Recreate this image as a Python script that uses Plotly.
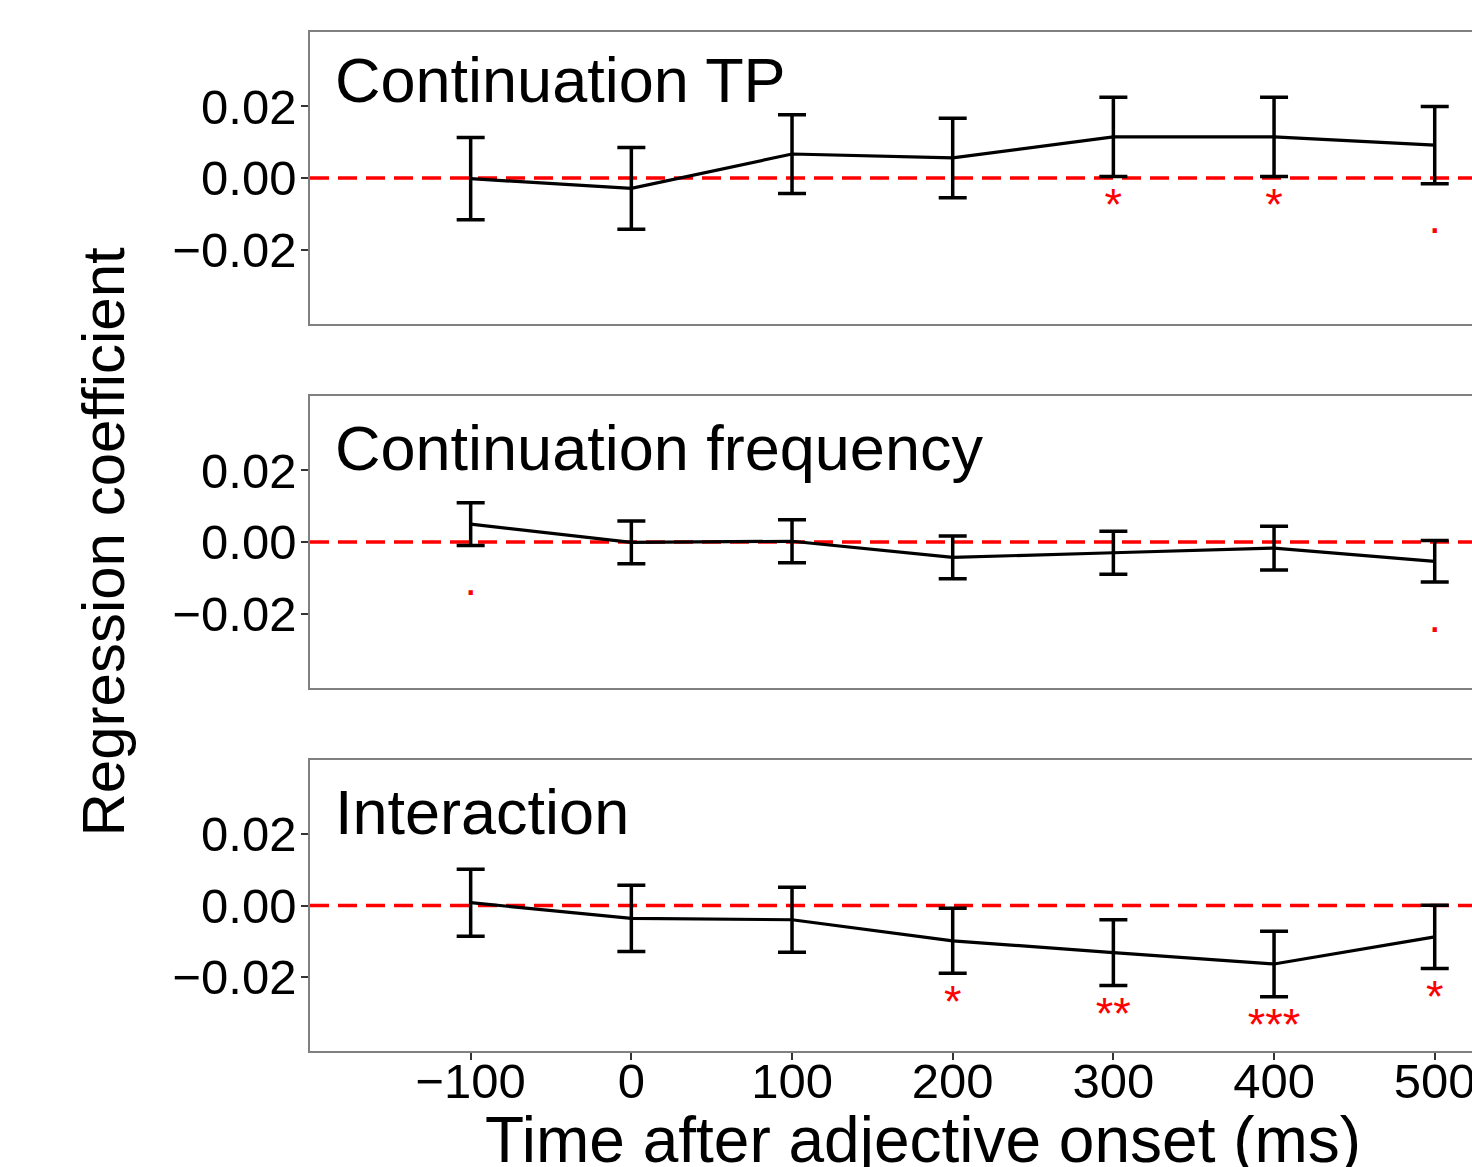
import plotly.graph_objects as go

# ---- data ----
times = [-100, 0, 100, 200, 300, 400, 500]
panel_titles = ["Continuation TP", "Continuation frequency", "Interaction"]

tp_mean = [-0.0002, -0.0029, 0.0067, 0.0056, 0.0115, 0.0115, 0.0092]
tp_se = [0.0115, 0.0114, 0.0110, 0.0111, 0.0111, 0.0111, 0.0108]
tp_sig = ["", "", "", "", "*", "*", "."]

freq_mean = [0.0050, -0.0001, 0.0002, -0.0043, -0.0030, -0.0017, -0.0054]
freq_se = [0.0060, 0.0060, 0.0060, 0.0060, 0.0060, 0.0061, 0.0058]
freq_sig = [".", "", "", "", "", "", "."]

int_mean = [0.0008, -0.0036, -0.0040, -0.0099, -0.0132, -0.0164, -0.0088]
int_se = [0.0094, 0.0093, 0.0091, 0.0091, 0.0092, 0.0092, 0.0089]
int_sig = ["", "", "", "*", "**", "***", "*"]

y_ticks = [-0.02, 0.0, 0.02]
x_ticks = [-100, 0, 100, 200, 300, 400, 500]

x_label = "Time after adjective onset (ms)"
y_label = "Regression coefficient"

means = [tp_mean, freq_mean, int_mean]
ses = [tp_se, freq_se, int_se]
sigs = [tp_sig, freq_sig, int_sig]

FONT = "Liberation Sans, Arial, Helvetica, sans-serif"
W, H = 1472, 1167
ML, MR, MT, MB = 310, 0, 32, 116
PH = H - MT - MB
PW = W - ML - MR

panel_px = [(32, 324), (396, 688), (760, 1051)]
domains = [[(H - MB - bot) / PH, (H - MB - top) / PH] for top, bot in panel_px]

fig = go.Figure()
YR = [-0.0408, 0.0408]
XR = [-200, 523.2]

for i in range(3):
    xa = "x" if i == 0 else f"x{i+1}"
    ya = "y" if i == 0 else f"y{i+1}"
    fig.add_trace(go.Scatter(
        x=XR, y=[0, 0], mode="lines", xaxis=xa, yaxis=ya,
        line=dict(color="#ff0000", width=3.3, dash="19px,9px"),
        hoverinfo="skip", showlegend=False))
    fig.add_trace(go.Scatter(
        x=times, y=means[i], mode="lines", xaxis=xa, yaxis=ya,
        line=dict(color="black", width=3.2),
        error_y=dict(type="data", array=ses[i], color="black",
                     thickness=3.5, width=14),
        showlegend=False))
    # label offset below the lower error bar; the period glyph sits on the baseline
    sig_y = [m - s - 0.009 - (0.0017 if t == "." else 0.0)
             for m, s, t in zip(means[i], ses[i], sigs[i])]
    fig.add_trace(go.Scatter(
        x=times, y=sig_y, mode="text", text=sigs[i], xaxis=xa, yaxis=ya,
        textposition="middle center",
        textfont=dict(color="#ff0000", size=45, family=FONT),
        showlegend=False, hoverinfo="skip"))

axis_line = dict(showline=True, linecolor="#808080", linewidth=1.5,
                 showgrid=False, zeroline=False, automargin=False)

layout = dict(
    width=W, height=H,
    margin=dict(l=ML, r=MR, t=MT, b=MB),
    plot_bgcolor="white", paper_bgcolor="white",
    font=dict(family=FONT, color="black"),
    showlegend=False,
)
for i in range(3):
    xk = "xaxis" if i == 0 else f"xaxis{i+1}"
    yk = "yaxis" if i == 0 else f"yaxis{i+1}"
    ya = "y" if i == 0 else f"y{i+1}"
    xa = "x" if i == 0 else f"x{i+1}"
    bottom = (i == 2)
    layout[xk] = dict(
        **axis_line, mirror=True, range=XR, domain=[0, 1], anchor=ya,
        tickvals=x_ticks, showticklabels=bottom,
        ticks="outside" if bottom else "", ticklen=7, tickwidth=1.5,
        tickcolor="#333333", tickfont=dict(size=49, color="black"),
        ticklabeloverflow="allow", ticklabelstandoff=-21,
    )
    layout[yk] = dict(
        **axis_line, mirror=False, range=YR, domain=domains[i], anchor=xa,
        tickvals=y_ticks, tickformat=".2f", ticks="outside", ticklen=7,
        tickwidth=1.5, tickcolor="#333333",
        tickfont=dict(size=49, color="black"),
        ticklabelstandoff=-5,
    )
fig.update_layout(**layout)

title_y = [0.0275, 0.0263, 0.0261]
for i in range(3):
    xa = "x" if i == 0 else f"x{i+1}"
    ya = "y" if i == 0 else f"y{i+1}"
    fig.add_annotation(
        text=panel_titles[i], xref=f"{xa} domain", yref=ya,
        x=23 / PW, y=title_y[i], xanchor="left", yanchor="middle",
        showarrow=False, font=dict(size=63, color="black", family=FONT))

fig.add_annotation(
    text=x_label, xref="paper", yref="paper",
    x=(923 - ML) / PW, y=(H - MB - 1140) / PH,
    xanchor="center", yanchor="middle", showarrow=False,
    font=dict(size=64, color="black", family=FONT))
fig.add_annotation(
    text=y_label, xref="paper", yref="paper",
    x=(103 - ML) / PW, y=(H - MB - 541.5) / PH, textangle=-90,
    xanchor="center", yanchor="middle", showarrow=False,
    font=dict(size=60, color="black", family=FONT))

fig.write_html(
    "out.html",
    config={"displayModeBar": False},
    post_script="document.body.style.margin='0';document.body.style.overflow='hidden';",
)
